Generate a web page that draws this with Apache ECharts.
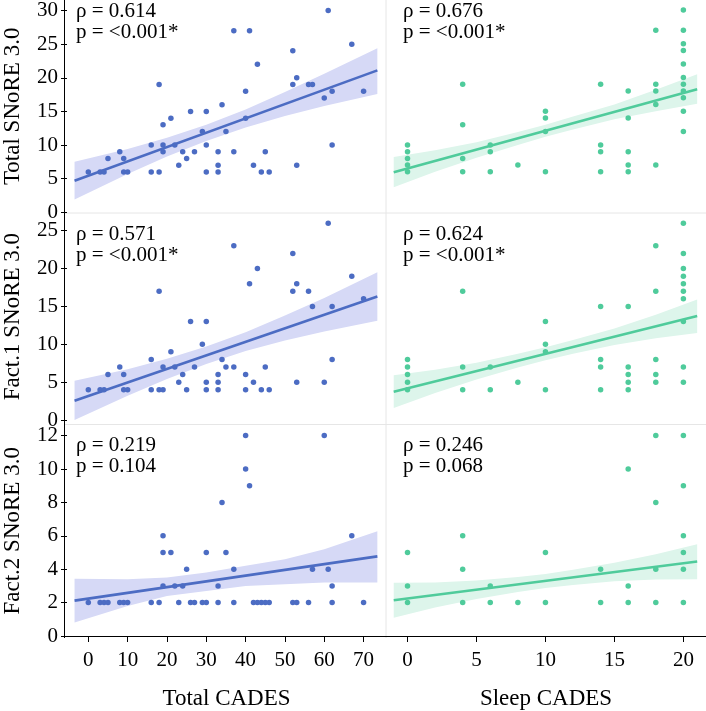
<!DOCTYPE html>
<html><head><meta charset="utf-8">
<script src="https://cdn.jsdelivr.net/npm/echarts@6/dist/echarts.min.js"></script>
<style>html,body{margin:0;padding:0;background:#fff}#c{width:706px;height:711px}</style>
</head><body><div id="c"></div>
<script>
// ---- tick labels ----
const tickTotalCades = [0,10,20,30,40,50,60,70];
const tickSleepCades = [0,5,10,15,20];
const tickTotalSnore = [0,5,10,15,20,25,30];
const tickFact1 = [0,5,10,15,20,25];
const tickFact2 = [0,2,4,6,8,10,12];

// ---- Left column: Total CADES (x) ----
const tcTotalX = [0,3,4,5,8,9,9,10,16,16,18,18,19,19,19,21,22,23,24,25,26,27,29,30,30,30,33,33,33,34,35,37,37,40,40,41,42,43,44,45,46,52,52,53,53,56,57,60,61,62,62,67,70];
const tcTotalY = [6,6,6,8,9,8,6,6,10,6,19,6,13,10,9,14,10,7,9,8,15,9,12,15,10,6,9,7,6,16,12,27,9,18,14,27,7,22,6,9,6,24,19,20,7,19,19,17,30,18,10,25,18];
const tcFact1X = [0,3,4,5,8,9,9,10,16,16,18,18,19,19,21,22,23,24,25,26,27,29,30,30,30,33,33,33,34,35,37,37,40,40,41,42,43,44,45,46,52,52,53,53,56,57,60,61,62,62,67,70];
const tcFact1Y = [4,4,4,6,7,6,4,4,8,4,17,4,7,4,9,7,5,6,4,13,7,10,13,5,4,6,5,4,8,7,23,7,6,4,18,5,20,4,7,4,22,17,18,5,17,15,5,26,15,8,19,16];
const tcFact2X = [0,3,4,5,8,9,10,16,18,19,19,19,21,22,23,24,25,26,27,29,30,30,33,33,34,35,37,37,40,40,41,42,43,44,45,46,52,53,56,57,60,61,62,62,67,70];
const tcFact2Y = [2,2,2,2,2,2,2,2,2,6,5,3,5,3,2,3,4,2,2,2,2,5,3,2,8,5,4,2,12,10,9,2,2,2,2,2,2,2,2,4,12,4,3,2,6,2];

// ---- Right column: Sleep CADES (x) ----
const scTotalX = [0,0,0,0,0,4,4,4,4,6,6,6,8,10,10,10,10,14,14,14,14,16,16,16,16,16,18,18,18,18,18,20,20,20,20,20,20,20,20,20,20,20];
const scTotalY = [10,9,8,7,6,19,13,8,6,10,9,6,7,15,14,12,6,19,10,9,6,18,14,9,7,6,27,19,18,16,7,30,27,25,24,22,20,19,18,17,15,12];
const scFact1X = [0,0,0,0,0,4,4,4,6,6,8,10,10,10,10,14,14,14,14,16,16,16,16,16,18,18,18,18,18,20,20,20,20,20,20,20,20,20,20];
const scFact1Y = [8,7,6,5,4,17,7,4,7,4,5,13,10,9,4,15,8,7,4,15,7,6,5,4,23,17,8,6,5,26,22,20,19,18,17,16,13,7,5];
const scFact2X = [0,0,0,4,4,4,6,6,8,10,10,14,14,16,16,16,18,18,18,18,20,20,20,20,20,20];
const scFact2Y = [5,3,2,6,4,2,3,2,2,5,2,4,2,10,3,2,12,8,4,2,12,9,6,5,4,2];

// ---- Fitted lines ----
const fitXLeft = [-3.5, 73.5];
const fitXRight = [-1, 21];
const fitTcTotalY = [4.7, 21.1];
const fitTcFact1Y = [2.55, 16.3];
const fitTcFact2Y = [2.12, 4.77];
const fitScTotalY = [5.93, 18.26];
const fitScFact1Y = [3.74, 13.73];
const fitScFact2Y = [2.14, 4.46];

// ---- Confidence bands ----
const bandXLeft = [-3.5,10,20,30,40,50,60,73.5];
const bandTcTotalHi = [7.5,9.4,11.1,13.0,15.3,17.9,20.6,24.4];
const bandTcTotalLo = [1.9,5.7,8.3,10.6,12.6,14.3,15.8,17.6];
const bandTcFact1Hi = [5.2,6.7,8.1,9.7,11.6,13.8,16.1,19.5];
const bandTcFact1Lo = [0.0,3.2,5.4,7.4,9.1,10.5,11.7,13.1];
const bandTcFact2Hi = [3.43,3.4,3.5,3.8,4.2,4.6,5.2,6.28];
const bandTcFact2Lo = [0.81,1.8,2.4,2.7,3.0,3.1,3.2,3.2];
const bandXRight = [-1,2,5,8,10,12,15,18,21];
const bandScTotalHi = [8.2,9.2,10.4,11.9,13.0,14.2,16.0,18.2,20.5];
const bandScTotalLo = [3.7,6.0,8.1,10.0,11.2,12.3,13.8,15.0,16.1];
const bandScFact1Hi = [5.9,6.65,7.55,8.75,9.6,10.55,12.1,13.9,15.9];
const bandScFact1Lo = [1.6,3.55,5.35,6.95,7.9,8.75,9.9,10.8,11.5];
const bandScFact2Hi = [3.19,3.21,3.32,3.54,3.72,3.96,4.38,4.89,5.5];
const bandScFact2Lo = [1.1,1.71,2.22,2.64,2.88,3.06,3.28,3.39,3.4];

// ---- Statistics text ----
const rhoValues = ['0.614','0.676','0.571','0.624','0.219','0.246'];
const pValues = ['<0.001*','<0.001*','<0.001*','<0.001*','0.104','0.068'];

const FONT = '"Liberation Serif","Times New Roman",serif';
const BLUE = '#4C6CC3', BLUE_BAND = '#D6D9F6', GREEN = '#4FCB9B', GREEN_BAND = '#DDF5EB';

const cols = [
  {left:64.3, width:321.7, min:-5.42, max:75.7, ticks:tickTotalCades, name:'Total CADES', color:BLUE, band:BLUE_BAND, fitX:fitXLeft, bandX:bandXLeft, textX:76},
  {left:386, width:320, min:-1.56, max:21.64, ticks:tickSleepCades, name:'Sleep CADES', color:GREEN, band:GREEN_BAND, fitX:fitXRight, bandX:bandXRight, textX:403}
];
const rows = [
  {top:0, height:212.3, max:31.5, ticks:tickTotalSnore, name:'Total SNoRE 3.0', textY:1},
  {top:213.3, height:206.7, max:27.3, ticks:tickFact1, name:'Fact.1 SNoRE 3.0', textY:223.5},
  {top:425.6, height:212.1, max:12.6, ticks:tickFact2, name:'Fact.2 SNoRE 3.0', textY:434.5}
];
const panels = [
  {r:0,c:0,x:tcTotalX,y:tcTotalY,fitY:fitTcTotalY,hi:bandTcTotalHi,lo:bandTcTotalLo},
  {r:0,c:1,x:scTotalX,y:scTotalY,fitY:fitScTotalY,hi:bandScTotalHi,lo:bandScTotalLo},
  {r:1,c:0,x:tcFact1X,y:tcFact1Y,fitY:fitTcFact1Y,hi:bandTcFact1Hi,lo:bandTcFact1Lo},
  {r:1,c:1,x:scFact1X,y:scFact1Y,fitY:fitScFact1Y,hi:bandScFact1Hi,lo:bandScFact1Lo},
  {r:2,c:0,x:tcFact2X,y:tcFact2Y,fitY:fitTcFact2Y,hi:bandTcFact2Hi,lo:bandTcFact2Lo},
  {r:2,c:1,x:scFact2X,y:scFact2Y,fitY:fitScFact2Y,hi:bandScFact2Hi,lo:bandScFact2Lo}
];

const grid = [], xAxis = [], yAxis = [], series = [], graphic = [];
panels.forEach((p, i) => {
  const col = cols[p.c], row = rows[p.r];
  grid.push({left: col.left, width: col.width, top: row.top, height: row.height, containLabel:false});
  const showX = p.r === 2, showY = p.c === 0;
  xAxis.push({
    gridIndex:i, type:'value', min:col.min, max:col.max, show:showX,
    axisLine:{show:true, onZero:false, lineStyle:{color:'#000', width:1}},
    axisTick:{show:true, length:6, customValues:col.ticks, lineStyle:{color:'#000'}},
    axisLabel:{customValues:col.ticks, margin:14, color:'#000', fontFamily:FONT, fontSize:21},
    splitLine:{show:false},
    name: showX ? col.name : '', nameLocation:'middle', nameGap:51,
    nameTextStyle:{color:'#000', fontFamily:FONT, fontSize:23}
  });
  yAxis.push({
    gridIndex:i, type:'value', min:0, max:row.max, show:showY,
    axisLine:{show:false, onZero:false},
    axisTick:{show:true, length:6, customValues:row.ticks, lineStyle:{color:'#000'}},
    axisLabel:{customValues:row.ticks, margin:9, color:'#000', fontFamily:FONT, fontSize:21},
    splitLine:{show:false},
    name: showY ? row.name : '', nameLocation:'middle', nameGap:43,
    nameTextStyle:{color:'#000', fontFamily:FONT, fontSize:23}
  });
  const bx = col.bandX, hi = p.hi, lo = p.lo, bandColor = col.band;
  series.push({
    type:'custom', xAxisIndex:i, yAxisIndex:i, silent:true, z:1, clip:false,
    data: bx.map((x,k) => [x, lo[k], hi[k]]),
    encode:{x:0, y:[1,2]},
    renderItem: (params, api) => {
      if (params.dataIndex !== 0) return;
      const pts = [];
      for (let k = 0; k < bx.length; k++) pts.push(api.coord([bx[k], hi[k]]));
      for (let k = bx.length - 1; k >= 0; k--) pts.push(api.coord([bx[k], lo[k]]));
      return {type:'polygon', shape:{points:pts}, style:{fill:bandColor}};
    }
  });
  series.push({
    type:'line', xAxisIndex:i, yAxisIndex:i, silent:true, z:2,
    data: col.fitX.map((x,k) => [x, p.fitY[k]]),
    showSymbol:false, symbol:'none',
    lineStyle:{color:col.color, width:2.6}
  });
  series.push({
    type:'scatter', xAxisIndex:i, yAxisIndex:i, z:3,
    data: p.x.map((x,k) => [x, p.y[k]]),
    symbolSize:5.5, itemStyle:{color:col.color, opacity:1}
  });
  graphic.push({
    type:'text', left: col.textX, top: row.textY, z:10,
    style:{text:'ρ = ' + rhoValues[i] + '\np = ' + pValues[i], fill:'#000', font:'21px ' + FONT, lineHeight:21}
  });
});
// cell separators and continuous left axis line
const SEP = '#E6E6E6';
graphic.push({type:'line', shape:{x1:64, y1:213, x2:706, y2:213}, style:{stroke:SEP, lineWidth:1}, z:0});
graphic.push({type:'line', shape:{x1:64, y1:424.5, x2:706, y2:424.5}, style:{stroke:SEP, lineWidth:1}, z:0});
graphic.push({type:'line', shape:{x1:386, y1:0, x2:386, y2:638}, style:{stroke:SEP, lineWidth:1}, z:0});
graphic.push({type:'line', shape:{x1:64.5, y1:0, x2:64.5, y2:638}, style:{stroke:'#000', lineWidth:1}, z:10});

const chart = echarts.init(document.getElementById('c'), null, {renderer:'canvas'});
chart.setOption({animation:false, backgroundColor:'#fff', grid, xAxis, yAxis, series, graphic});
</script></body></html>
